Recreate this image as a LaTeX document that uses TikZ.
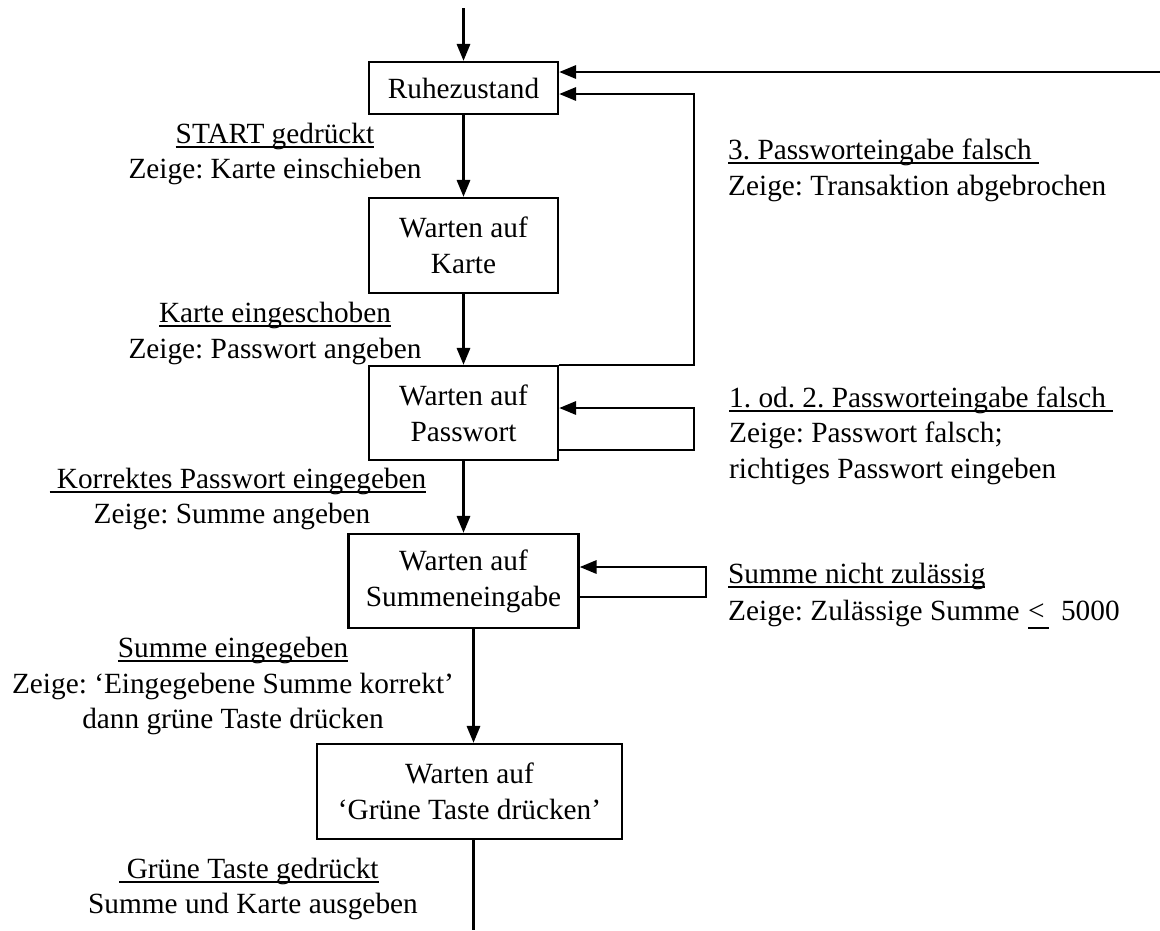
\documentclass[tikz,border=0pt]{standalone}
\usepackage{fontspec}
\setmainfont{Liberation Serif}
\usetikzlibrary{arrows.meta}
% underlined text with a rule a little below the baseline
\newcommand\ulx[1]{\setbox0\hbox{#1}\rlap{\rule[-3.6pt]{\wd0}{1.3pt}}\box0}
\begin{document}
\frenchspacing
\begin{tikzpicture}[x=0.025cm,y=-0.025cm,
  font=\fontsize{20.84pt}{25.6pt}\selectfont\frenchspacing,
  line width=1.7pt,
  state/.style={draw, inner sep=0pt, align=center},
  arr/.style={-{Triangle[length=4.2mm,width=3.3mm]}},
  lbl/.style={anchor=base, inner sep=0pt},
  lbll/.style={anchor=base west, inner sep=0pt}]
\useasboundingbox (0,0) rectangle (1160,930);

% states
\node[state, minimum width=47.25mm, minimum height=13mm]    (ruhe)  at (463.5,88)    {Ruhezustand};
\node[state, minimum width=47.25mm, minimum height=23.75mm] (karte) at (463.5,245.5) {Warten auf\\Karte};
\node[state, minimum width=47.25mm, minimum height=23.5mm]  (pass)  at (463.5,413)   {Warten auf\\Passwort};
\node[state, minimum width=57.5mm,  minimum height=23.5mm]  (summe) at (463.5,581)   {Warten auf\\Summeneingabe};
\node[state, minimum width=76.25mm, minimum height=23.75mm] (gru)   at (469.5,791.5) {Warten auf\\‘Grüne Taste drücken’};

% auxiliary points
\coordinate (topin) at (463.5,8);
\coordinate (sx)    at (473.5,0);
\coordinate (outb)  at (473.5,930);
\coordinate (farR)  at (1160,72);
\coordinate (backX) at (694,94);
\coordinate (pl1)   at (694,450);
\coordinate (pl2)   at (694,408);
\coordinate (sl1)   at (706,597);
\coordinate (sl2)   at (706,567);

% transitions
\draw[arr] (topin) -- (ruhe.north);
\draw[arr] (ruhe.south) -- (karte.north);
\draw[arr] (karte.south) -- (pass.north);
\draw[arr] (pass.south) -- (summe.north);
\draw[arr] (summe.south -| sx) -- (gru.north -| sx);
\draw (gru.south -| sx) -- (outb);
\draw[arr] (farR) -- (farR -| ruhe.east);
\draw[arr] (pass.north east) -- (pass.north east -| backX) -- (backX) -- (backX -| ruhe.east);
\draw[arr] (pl1 -| pass.east) -- (pl1) -- (pl2) -- (pl2 -| pass.east);
\draw[arr] (sl1 -| summe.east) -- (sl1) -- (sl2) -- (sl2 -| summe.east);

% transition labels, left side
\node[lbl] (startA) at (275,143) {\ulx{START gedrückt}};
\node[lbl] (startB) at (275,178) {Zeige: Karte einschieben};
\node[lbl] (karteA) at (275,322) {\ulx{Karte eingeschoben}};
\node[lbl] (karteB) at (275,358) {Zeige: Passwort angeben};
\node[lbl] (korrA)  at (238,488) {\ulx{\ Korrektes Passwort eingegeben}};
\node[lbl] (korrB)  at (232,523) {Zeige: Summe angeben};
\node[lbl] (sumA)   at (233,657) {\ulx{Summe eingegeben}};
\node[lbl] (sumB)   at (233,693) {Zeige: ‘Eingegebene Summe korrekt’};
\node[lbl] (sumC)   at (233,728) {dann grüne Taste drücken};
\node[lbl] (gruA)   at (249,878) {\ulx{\ Grüne Taste gedrückt}};
\node[lbl] (gruB)   at (253,913) {Summe und Karte ausgeben};

% transition labels, right side
\node[lbll] (dreiA)  at (727,159) {\ulx{3. Passworteingabe falsch\ }};
\node[lbll] (dreiB)  at (727,195) {Zeige: Transaktion abgebrochen};
\node[lbll] (einsA)  at (728,407) {\ulx{1. od. 2. Passworteingabe falsch\ }};
\node[lbll] (einsB)  at (728,442) {Zeige: Passwort falsch;};
\node[lbll] (einsC)  at (728,478) {richtiges Passwort eingeben};
\node[lbll] (nichtA) at (727,583) {\ulx{Summe nicht zulässig}};
\node[lbll] (nichtB) at (727,620) {Zeige: Zulässige Summe\hspace{6pt}\rlap{<}\rlap{\rule[-6.2pt]{15pt}{1.3pt}}\hspace{23.5pt}5000};
\end{tikzpicture}
\end{document}
